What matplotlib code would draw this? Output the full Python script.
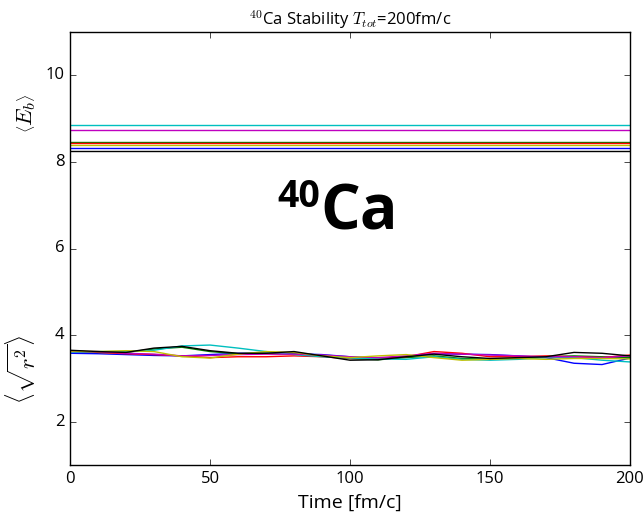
import matplotlib
matplotlib.use("Agg")
import matplotlib.pyplot as plt
import matplotlib.transforms as mtransforms
import numpy as np

plt.style.use('classic')
plt.rcParams['font.family'] = ['Open Sans', 'DejaVu Sans']
plt.rcParams['mathtext.fontset'] = 'cm'

time = [0, 10, 20, 30, 40, 50, 60, 70, 80, 90, 100, 110, 120, 130, 140, 150, 160, 170, 180, 190, 200]
colors = ['b', 'g', 'r', 'c', 'm', 'y', 'k']

energy_b = 8.32
energy_g = 8.46
energy_r = 8.43
energy_c = 8.85
energy_m = 8.74
energy_y = 8.40
energy_k = 8.26
energies = [energy_b, energy_g, energy_r, energy_c, energy_m, energy_y, energy_k]

radius_b = [3.58, 3.57, 3.55, 3.53, 3.52, 3.55, 3.58, 3.58, 3.57, 3.55, 3.50, 3.46, 3.50, 3.57, 3.56, 3.55, 3.52, 3.48, 3.35, 3.32, 3.47]
radius_g = [3.62, 3.60, 3.60, 3.68, 3.72, 3.62, 3.57, 3.58, 3.56, 3.52, 3.46, 3.43, 3.48, 3.52, 3.46, 3.44, 3.46, 3.50, 3.52, 3.50, 3.48]
radius_r = [3.64, 3.60, 3.57, 3.55, 3.52, 3.48, 3.50, 3.50, 3.52, 3.50, 3.46, 3.45, 3.50, 3.62, 3.58, 3.50, 3.50, 3.52, 3.50, 3.48, 3.54]
radius_c = [3.60, 3.62, 3.62, 3.65, 3.75, 3.77, 3.70, 3.62, 3.55, 3.50, 3.47, 3.45, 3.44, 3.50, 3.44, 3.42, 3.44, 3.48, 3.48, 3.42, 3.38]
radius_m = [3.62, 3.62, 3.58, 3.56, 3.52, 3.53, 3.55, 3.56, 3.56, 3.54, 3.50, 3.48, 3.52, 3.58, 3.56, 3.54, 3.52, 3.50, 3.50, 3.48, 3.52]
radius_y = [3.63, 3.62, 3.64, 3.62, 3.50, 3.47, 3.56, 3.62, 3.60, 3.52, 3.48, 3.52, 3.55, 3.48, 3.42, 3.44, 3.46, 3.44, 3.46, 3.46, 3.45]
radius_k = [3.65, 3.62, 3.60, 3.70, 3.74, 3.64, 3.58, 3.58, 3.62, 3.52, 3.42, 3.43, 3.50, 3.56, 3.50, 3.46, 3.48, 3.50, 3.60, 3.58, 3.52]
radii = [radius_b, radius_g, radius_r, radius_c, radius_m, radius_y, radius_k]

fig = plt.figure(figsize=(6.44, 5.13), dpi=100, facecolor='white')
ax = fig.add_axes([70/644, 1-465/513, 560/644, 433/513])
ax.set_facecolor('white')

for c, e in zip(colors, energies):
    ax.plot([time[0], time[-1]], [e, e], color=c, lw=1)
for c, r in zip(colors, radii):
    ax.plot(time, r, color=c, lw=1)

ax.set_xlim(0, 200)
ax.set_ylim(1, 11)
ax.set_xticks([0, 50, 100, 150, 200])
ax.set_yticks([2, 4, 6, 8, 10])
ax.tick_params(labelsize=12)
ax.set_xlabel('Time [fm/c]', fontsize=14)
ax.set_title(r'$^{40}$Ca Stability $T_{tot}$=200fm/c', fontsize=12)

trans = mtransforms.blended_transform_factory(ax.transAxes, ax.transData)
ax.text(-0.078, 9.13, r'$\left\langle E_b \right\rangle$', transform=trans, rotation=90,
        ha='center', va='center', fontsize=16)
ax.text(-0.082, 3.2, r'$\left\langle \sqrt{r^2} \right\rangle$', transform=trans, rotation=90,
        ha='center', va='center', fontsize=16)

fig.text(320/644, 1-207/513, '40', ha='right', va='baseline', fontsize=27, fontweight='bold')
fig.text(320/644, 1-229/513, 'Ca', ha='left', va='baseline', fontsize=45, fontweight='bold')

fig.savefig('out.png', dpi=100, facecolor='white')
